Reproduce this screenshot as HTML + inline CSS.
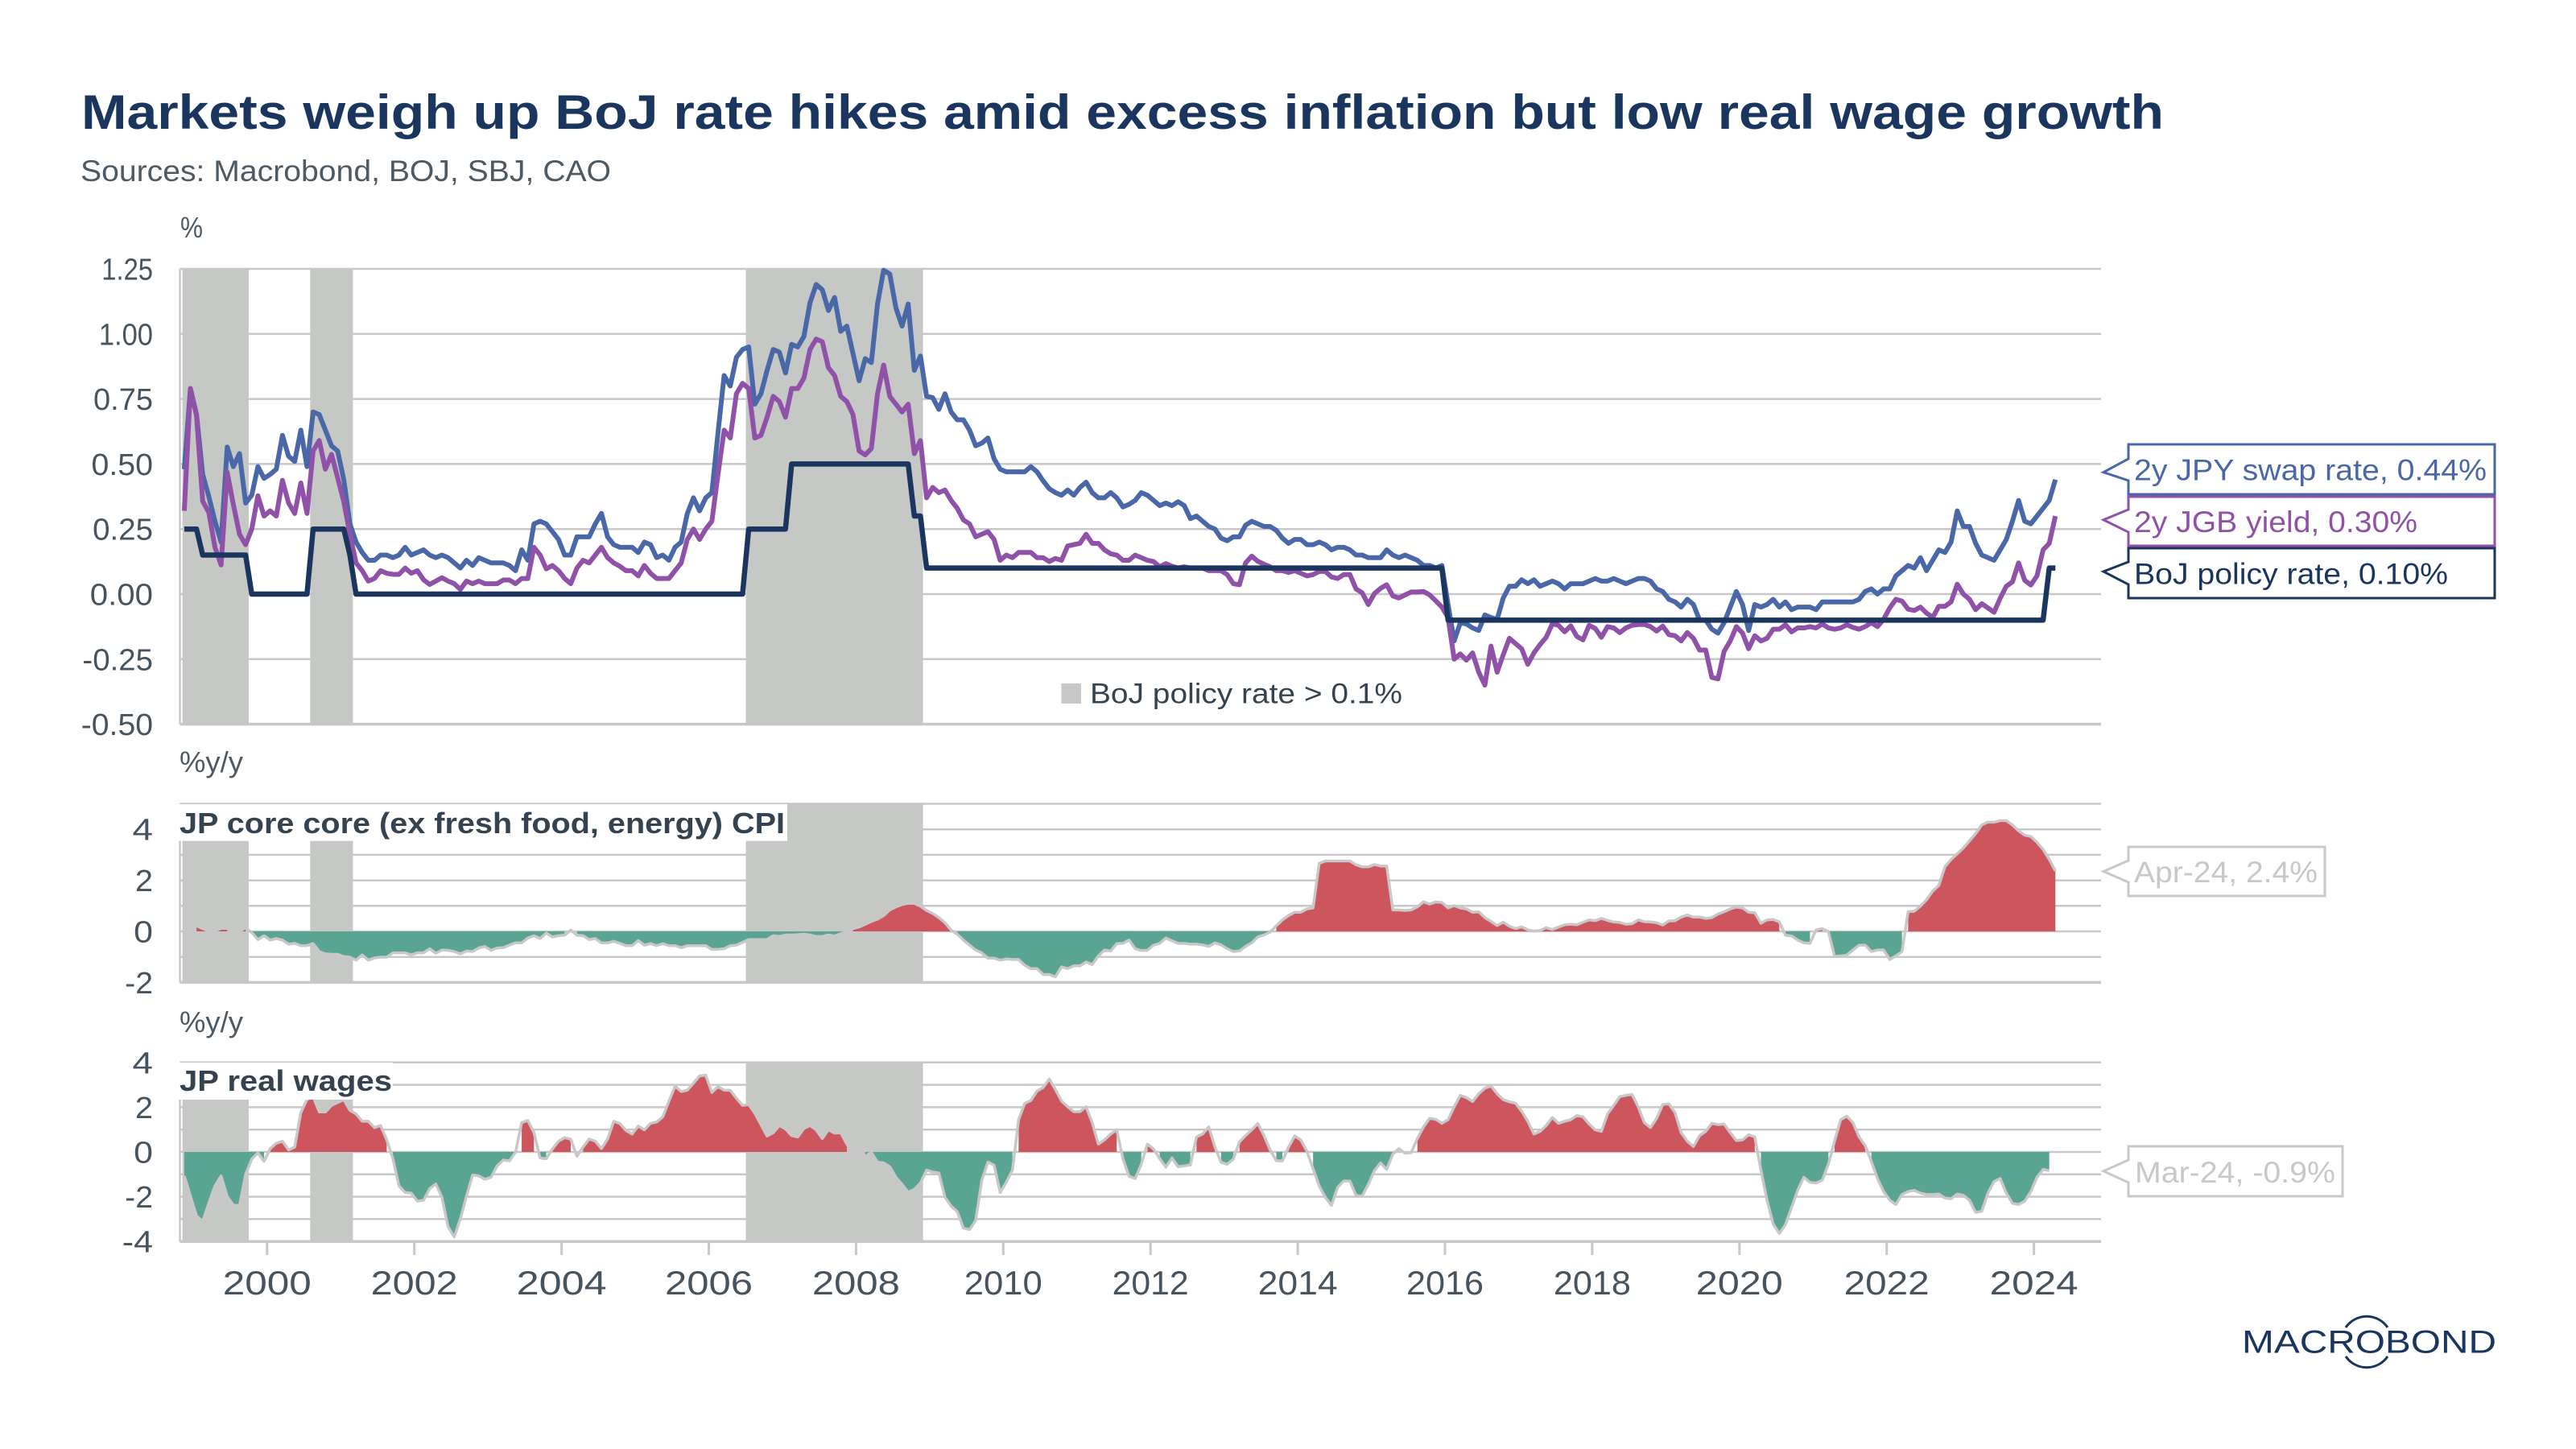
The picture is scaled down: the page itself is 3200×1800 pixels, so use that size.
<!DOCTYPE html>
<html lang="en">
<head>
<meta charset="utf-8">
<title>Markets weigh up BoJ rate hikes</title>
<style>
html,body{margin:0;padding:0;background:#fff;width:3200px;height:1800px;overflow:hidden}
svg{display:block}
text{font-family:"Liberation Sans",sans-serif}
</style>
</head>
<body>
<svg id="chart" xmlns="http://www.w3.org/2000/svg" width="3200" height="1800" viewBox="0 0 3200 1800">
  <rect width="3200" height="1800" fill="#ffffff"/>
  <text x="101" y="160" font-size="60" font-weight="700" fill="#1a355e" textLength="2587" lengthAdjust="spacingAndGlyphs">Markets weigh up BoJ rate hikes amid excess inflation but low real wage growth</text>
  <text x="100" y="225" font-size="37" fill="#4d5963" textLength="659" lengthAdjust="spacingAndGlyphs">Sources: Macrobond, BOJ, SBJ, CAO</text>
  <text x="224" y="295" font-size="36" fill="#4d5963" textLength="28" lengthAdjust="spacingAndGlyphs">%</text>
  <text x="223" y="959" font-size="36" fill="#4d5963" textLength="79" lengthAdjust="spacingAndGlyphs">%y/y</text>
  <text x="223" y="1282" font-size="36" fill="#4d5963" textLength="79" lengthAdjust="spacingAndGlyphs">%y/y</text>
  <g id="grid-layer"></g>
  <g id="band-layer"></g>
  <g id="axis-layer"></g>
  <g id="area-layer"></g>
  <g id="line-layer"></g>
  <g>
    <rect x="1318.5" y="849" width="24.5" height="25" fill="#c6c8c5"/>
    <text x="1354" y="873.5" font-size="35" fill="#34434f" textLength="388" lengthAdjust="spacingAndGlyphs">BoJ policy rate &gt; 0.1%</text>
  </g>
  <g>
    <rect x="222" y="999" width="756" height="45.6" fill="#ffffff"/>
    <text x="223" y="1035" font-size="36" font-weight="700" fill="#34434f" textLength="752" lengthAdjust="spacingAndGlyphs">JP core core (ex fresh food, energy) CPI</text>
  </g>
  <g>
    <rect x="222" y="1320" width="266" height="46" fill="#ffffff"/>
    <text x="223" y="1355" font-size="36" font-weight="700" fill="#34434f" textLength="264" lengthAdjust="spacingAndGlyphs">JP real wages</text>
  </g>
  <g>
    <path d="M2644 552H3099V614H2644V597L2613 586.7L2644 570Z" fill="#fff" stroke="#4a67a8" stroke-width="3"/>
    <text x="2651" y="596.7" font-size="37" fill="#4a67a8" textLength="438" lengthAdjust="spacingAndGlyphs">2y JPY swap rate, 0.44%</text>
  </g>
  <g>
    <path d="M2644 617H3099V678H2644V661L2613 645.7L2644 633Z" fill="#fff" stroke="#8f52a8" stroke-width="3"/>
    <text x="2651" y="661" font-size="37" fill="#8f52a8" textLength="352" lengthAdjust="spacingAndGlyphs">2y JGB yield, 0.30%</text>
  </g>
  <g>
    <path d="M2644 681H3099V743H2644V726L2613 710L2644 698Z" fill="#fff" stroke="#1a355e" stroke-width="3"/>
    <text x="2651" y="725.7" font-size="37" fill="#1a355e" textLength="390" lengthAdjust="spacingAndGlyphs">BoJ policy rate, 0.10%</text>
  </g>
  <g>
    <path d="M2644 1052H2888V1113H2644V1096L2613 1082.5L2644 1069Z" fill="#fff" stroke="#c8c8c8" stroke-width="3"/>
    <text x="2651" y="1096" font-size="37" fill="#c8c8c8" textLength="228" lengthAdjust="spacingAndGlyphs">Apr-24, 2.4%</text>
  </g>
  <g>
    <path d="M2644 1424H2910V1486H2644V1469L2613 1454.8L2644 1441Z" fill="#fff" stroke="#c8c8c8" stroke-width="3"/>
    <text x="2652" y="1469" font-size="37" fill="#c8c8c8" textLength="249" lengthAdjust="spacingAndGlyphs">Mar-24, -0.9%</text>
  </g>
  <g>
    <text x="2785" y="1680.6" font-size="40" fill="#1a355e" textLength="316" lengthAdjust="spacingAndGlyphs">MACROBOND</text>
    <path d="M2914 1649A31.5 31.5 0 0 1 2966 1649" fill="none" stroke="#1a355e" stroke-width="3"/>
    <path d="M2914 1685A31.5 31.5 0 0 0 2966 1685" fill="none" stroke="#1a355e" stroke-width="3"/>
  </g>
</svg>
<script>
const startYear = 1998;
const startMonth = 10;

const swapRate = [
.48,.79,.69,.46,.375,.28,.20,.565,.49,.54,
.35,.38,.49,.445,.46,.48,.61,.53,.51,.63,
.49,.70,.69,.63,.57,.55,.44,.27,.20,.16,
.13,.13,.15,.15,.14,.15,.18,.15,.16,.17,
.15,.14,.15,.14,.12,.10,.13,.11,.14,.13,
.12,.12,.12,.11,.09,.17,.13,.27,.28,.27,
.24,.21,.15,.15,.22,.22,.22,.27,.31,.22,
.19,.18,.18,.18,.16,.20,.19,.14,.15,.13,
.18,.20,.31,.37,.32,.37,.39,.62,.84,.80,
.91,.94,.95,.73,.77,.86,.94,.93,.85,.96,
.95,.99,1.12,1.19,1.17,1.09,1.14,1.01,1.03,.925,
.82,.905,.89,1.115,1.245,1.23,1.10,1.03,1.115,.86,
.915,.76,.755,.71,.77,.70,.67,.67,.63,.57,
.58,.60,.52,.48,.47,.47,.47,.47,.49,.47,
.435,.405,.39,.38,.40,.38,.41,.43,.39,.37,
.37,.39,.37,.335,.345,.36,.39,.38,.36,.34,
.35,.34,.355,.34,.29,.30,.28,.26,.25,.215,
.205,.22,.22,.265,.28,.27,.26,.26,.245,.215,
.195,.21,.21,.19,.19,.20,.19,.17,.18,.18,
.17,.15,.15,.14,.14,.14,.17,.15,.14,.15,
.14,.13,.11,.11,.10,.11,-.04,-.18,-.11,-.115,
-.13,-.14,-.08,-.09,-.097,-.015,.03,.03,.055,.04,
.055,.03,.04,.05,.04,.02,.04,.04,.04,.05,
.06,.05,.05,.06,.05,.04,.05,.06,.06,.05,
.02,.01,-.02,-.03,-.05,-.02,-.04,-.10,-.10,-.135,
-.15,-.11,-.05,.01,-.04,-.14,-.04,-.05,-.04,-.02,
-.05,-.03,-.06,-.05,-.05,-.05,-.06,-.03,-.03,-.03,
-.03,-.03,-.03,-.02,.01,.02,0,.02,.02,.07,
.09,.11,.10,.14,.09,.13,.17,.16,.20,.32,
.26,.26,.195,.15,.14,.13,.17,.21,.28,.36,
.28,.27,.30,.33,.36,.44
];

const jgbYield = [
.32,.79,.685,.357,.314,.18,.112,.468,.344,.23,
.19,.25,.378,.30,.32,.30,.437,.35,.31,.427,
.31,.55,.59,.48,.537,.447,.355,.23,.12,.09,
.05,.06,.09,.08,.076,.076,.10,.08,.09,.055,
.037,.05,.063,.05,.04,.018,.05,.04,.05,.04,
.04,.04,.054,.054,.04,.06,.06,.18,.15,.097,
.11,.09,.06,.04,.10,.13,.12,.15,.18,.14,
.12,.107,.09,.09,.07,.11,.08,.06,.06,.06,
.09,.12,.21,.25,.21,.25,.28,.46,.63,.60,
.77,.81,.79,.60,.61,.68,.76,.74,.68,.79,
.79,.83,.94,.98,.97,.87,.84,.76,.74,.69,
.55,.535,.56,.77,.88,.76,.73,.70,.73,.54,
.59,.37,.41,.39,.40,.36,.33,.285,.27,.22,
.23,.24,.21,.13,.15,.14,.16,.16,.16,.14,
.14,.125,.137,.13,.185,.19,.195,.23,.195,.195,
.17,.155,.15,.13,.13,.15,.14,.13,.125,.105,
.117,.107,.10,.105,.10,.10,.10,.09,.09,.09,
.075,.04,.036,.12,.146,.126,.115,.105,.09,.09,
.083,.09,.08,.07,.075,.087,.087,.066,.06,.075,
.075,.02,.005,-.04,.002,.022,.036,-.007,-.015,-.003,
.008,.008,.01,-.003,-.026,-.05,-.09,-.25,-.23,-.254,
-.226,-.30,-.35,-.20,-.30,-.233,-.17,-.19,-.21,-.27,
-.226,-.194,-.166,-.114,-.12,-.145,-.122,-.163,-.176,-.12,
-.132,-.166,-.125,-.13,-.148,-.13,-.12,-.117,-.117,-.125,
-.142,-.123,-.156,-.16,-.18,-.148,-.17,-.215,-.215,-.32,
-.326,-.22,-.18,-.125,-.15,-.21,-.16,-.18,-.17,-.135,
-.135,-.118,-.145,-.13,-.13,-.125,-.13,-.115,-.13,-.135,
-.13,-.118,-.128,-.135,-.125,-.11,-.125,-.097,-.053,-.02,
-.027,-.058,-.063,-.05,-.073,-.09,-.047,-.047,-.03,.038,
0,-.02,-.06,-.037,-.053,-.07,-.016,.03,.047,.12,
.053,.035,.07,.17,.195,.30
];

// Policy rate as level changes: each level and how many months it held.
const policyLevels = [.25,.15,0,.25,.15,0,.25,.5,.3,.1,-.1,.1];
const policyMonths = [3,8,10,6,1,64,7,20,2,85,98,2];

const coreCpi = [
null,null,.22,.11,.01,.02,.12,.12,-.05,.01,
.14,-.05,-.32,-.17,-.34,-.28,-.34,-.5,-.47,-.56,
-.56,-.48,-.79,-.88,-.9,-.9,-.99,-1.01,-1.13,-.92,
-1.13,-1.04,-1.01,-1.01,-.84,-.84,-.84,-.92,-.84,-.84,
-.68,-.86,-.73,-.74,-.79,-.88,-.77,-.79,-.65,-.59,
-.74,-.65,-.64,-.54,-.45,-.45,-.26,-.17,-.28,-.06,
-.22,-.17,-.15,.05,-.15,-.17,-.32,-.28,-.45,-.45,
-.39,-.47,-.56,-.56,-.36,-.54,-.48,-.56,-.48,-.56,
-.56,-.64,-.56,-.56,-.56,-.56,-.71,-.7,-.68,-.56,
-.54,-.43,-.32,-.32,-.32,-.32,-.17,-.2,-.14,-.14,
-.13,-.11,-.14,-.2,-.2,-.14,-.18,-.09,-.01,.11,
.17,.28,.39,.48,.62,.84,.96,1.05,1.1,1.1,
.99,.82,.7,.54,.34,.05,-.11,-.34,-.54,-.73,
-.84,-1.05,-1.05,-1.13,-1.08,-1.1,-1.1,-1.33,-1.46,-1.46,
-1.69,-1.69,-1.78,-1.39,-1.46,-1.35,-1.35,-1.2,-1.3,-.96,
-.73,-.77,-.48,-.47,-.34,-.68,-.75,-.74,-.54,-.47,
-.26,-.37,-.47,-.47,-.5,-.5,-.53,-.59,-.45,-.53,
-.68,-.79,-.77,-.59,-.45,-.22,-.14,-.03,.22,.45,
.62,.75,.75,.88,.92,2.67,2.76,2.76,2.76,2.76,
2.76,2.61,2.53,2.53,2.62,2.56,2.56,.84,.84,.82,
.84,.96,1.16,1.07,1.15,1.13,.92,1.01,.92,.88,
.75,.77,.54,.39,.23,.36,.2,.11,.18,.06,
.01,.03,.15,.07,.17,.26,.28,.26,.36,.45,
.42,.51,.43,.37,.35,.28,.3,.45,.38,.37,
.34,.25,.41,.42,.56,.64,.56,.56,.51,.54,
.68,.77,.88,.95,.92,.75,.73,.32,.45,.47,
.37,-.15,-.18,-.34,-.45,-.47,.06,.11,-.01,-.98,
-.96,-.93,-.73,-.54,-.54,-.79,-.73,-.73,-1.1,-.96,
-.79,.77,.79,.99,1.24,1.58,1.8,2.53,2.82,3.04,
3.27,3.55,3.83,4.17,4.28,4.28,4.34,4.34,4.17,3.94,
3.77,3.72,3.49,3.21,2.82,2.37
];

const realWages = [
-1.07,-1.97,-2.86,-3.1,-2.29,-1.52,-1.07,-1.99,-2.38,-2.39,
-1.0,-.32,-.04,-.42,.15,.39,.48,.09,.22,1.76,
2.34,2.47,1.79,1.79,2.08,2.21,2.34,1.86,1.7,1.37,
1.37,1.09,1.18,.54,-.3,-1.52,-1.81,-1.84,-2.2,-2.16,
-1.64,-1.43,-2.03,-3.35,-3.8,-2.99,-1.97,-1.03,-1.07,-1.22,
-1.13,-.62,-.36,-.4,-.01,1.31,1.41,.86,-.27,-.3,
.13,.48,.64,.57,-.19,.22,.58,.48,.15,.58,
1.37,1.27,.96,.8,1.16,.99,1.28,1.34,1.57,2.27,
2.94,2.7,2.76,3.07,3.4,3.43,2.66,2.92,2.76,2.75,
2.4,2.08,2.12,1.73,1.22,.71,.86,1.18,1.03,.73,
.67,1.05,1.18,.99,.6,.99,.84,.86,.35,-.05,
.02,-.2,-.02,-.46,-.49,-.66,-1.13,-1.45,-1.8,-1.67,
-1.39,-.81,-.9,-.94,-2.03,-2.42,-2.67,-3.4,-3.47,-3.06,
-1.26,-.45,-.59,-1.81,-1.35,-.81,1.44,2.17,2.3,2.72,
2.88,3.26,2.79,2.27,2.02,1.8,1.8,2.02,1.31,.35,
.54,.8,.99,-.3,-1.09,-1.19,-.55,.35,.13,-.3,
-.68,-.27,-.66,-.62,-.58,.67,.8,1.12,.22,-.46,
-.55,-.32,.45,.73,.99,1.27,.73,.09,-.39,-.4,
.22,.71,.54,.03,-.75,-1.52,-2.03,-2.39,-1.58,-1.3,
-1.3,-1.94,-1.97,-1.45,-.84,-.49,-.78,-.1,.15,-.06,
-.03,.6,1.12,1.5,1.46,1.28,1.44,2.02,2.53,2.43,
2.25,2.6,2.85,2.95,2.6,2.34,2.24,2.18,1.82,1.37,
.8,.92,1.18,1.54,1.28,1.37,1.44,1.63,1.57,1.25,
.99,.92,1.7,2.08,2.47,2.53,2.57,2.02,1.31,1.09,
1.5,2.12,2.15,1.76,.86,.48,.24,.73,.92,1.28,
1.22,1.25,.86,.51,.54,.77,.67,-.81,-2.16,-3.22,
-3.64,-3.25,-2.48,-1.71,-1.13,-1.36,-1.39,-1.26,-.55,.48,
1.44,1.6,1.31,.67,.28,-.42,-1.19,-1.77,-2.16,-2.35,
-1.9,-1.77,-1.71,-1.84,-1.9,-1.9,-1.88,-2.06,-2.09,-1.88,
-1.94,-2.16,-2.7,-2.65,-1.84,-1.32,-1.19,-1.84,-2.29,-2.35,
-2.2,-1.77,-1.13,-.78,-.84,null
];

// Periods with the policy rate above 0.1%, as decimal years.
const bandStarts = [1998.85,2000.585,2006.504];
const bandEnds = [1999.75,2001.166,2008.909];

const rateGridValues = [1.25,1,.75,.5,.25,0,-.25,-.5];
const rateTickLabels = ['1.25','1.00','0.75','0.50','0.25','0.00','-0.25','-0.50'];
const cpiGridValues = [5,4,3,2,1,0,-1,-2];
const cpiTickValues = [4,2,0,-2];
const wageGridValues = [4,3,2,1,0,-1,-2,-3,-4];
const wageTickValues = [4,2,0,-2,-4];
const yearTicks = [2000,2002,2004,2006,2008,2010,2012,2014,2016,2018,2020,2022,2024];

const NS = 'http://www.w3.org/2000/svg';
const GRID = '#c8c8c8';
const PLOT_LEFT = 223.5;
const PLOT_RIGHT = 2610;

function xYear(year) { return 331.8 + (year - 2000) * 91.45; }
function xMonth(i) { return xYear(startYear + (startMonth + 0.5 + i) / 12); }
function yRate(v) { return 738 - 323.2 * v; }
function yCpi(v) { return 1157 - 31.7 * v; }
function yWage(v) { return 1431 - 27.8 * v; }

function labelWidth(label, k) {
  const w = {'0':28,'1':15,'2':26,'3':26,'4':30,'5':26,'6':27,'7':25,'8':27,'9':27,'.':8,'-':15};
  let s = 0;
  for (const c of label) s += w[c];
  return s * k;
}
function shape(tag, attrs, parent) {
  const el = document.createElementNS(NS, tag);
  for (const k in attrs) el.setAttribute(k, attrs[k]);
  parent.appendChild(el);
  return el;
}

const gridLayer = document.getElementById('grid-layer');
const bandLayer = document.getElementById('band-layer');
const axisLayer = document.getElementById('axis-layer');
const areaLayer = document.getElementById('area-layer');
const lineLayer = document.getElementById('line-layer');

const panels = [
  {key:'rates', scale:yRate, grid:rateGridValues, ticks:rateGridValues, labels:rateTickLabels},
  {key:'cpi', scale:yCpi, grid:cpiGridValues, ticks:cpiTickValues, labels:cpiTickValues.map(String)},
  {key:'wages', scale:yWage, grid:wageGridValues, ticks:wageTickValues, labels:wageTickValues.map(String)}
];

panels.forEach(function (p) {
  const top = p.scale(p.grid[0]);
  const bottom = p.scale(p.grid[p.grid.length - 1]);
  p.grid.forEach(function (v, n) {
    const line = shape('line', {x1:PLOT_LEFT, x2:PLOT_RIGHT, y1:p.scale(v), y2:p.scale(v), stroke:GRID,
      'stroke-width': n === p.grid.length - 1 ? 3.5 : 2.5}, gridLayer);
    
    
  });
  bandStarts.forEach(function (start, n) {
    const band = shape('rect', {x:xYear(start), width:xYear(bandEnds[n]) - xYear(start), y:top, height:bottom - top, fill:'#c6c8c5'}, bandLayer);
    
    
  });
  const axis = shape('line', {x1:PLOT_LEFT, x2:PLOT_LEFT, y1:top, y2:bottom, stroke:GRID, 'stroke-width':2.5}, axisLayer);
  
  
  p.ticks.forEach(function (v, n) {
    const t = shape('text', {x:190, y:p.scale(v) + 13.5, 'font-size':38, fill:'#47535e', 'text-anchor':'end',
      textLength:labelWidth(p.labels[n], 0.85), lengthAdjust:'spacingAndGlyphs'}, axisLayer);
    t.textContent = p.labels[n];
    
    
  });
});

yearTicks.forEach(function (year) {
  const tick = shape('line', {x1:xYear(year), x2:xYear(year), y1:1542, y2:1559, stroke:GRID, 'stroke-width':3}, axisLayer);
  
  
  const t = shape('text', {x:xYear(year), y:1608, 'font-size':42, fill:'#47535e', 'text-anchor':'middle',
    textLength:labelWidth(String(year), 1), lengthAdjust:'spacingAndGlyphs'}, axisLayer);
  t.textContent = String(year);
  
  
});

function linePath(values, scale) {
  let d = '';
  let pen = false;
  values.forEach(function (v, i) {
    if (v === null) { pen = false; return; }
    d += (pen ? 'L' : 'M') + xMonth(i).toFixed(2) + ' ' + scale(v).toFixed(2);
    pen = true;
  });
  return d;
}

function drawAreas(values, scale, name) {
  let run = [];
  function flush() {
    if (run.length > 1) {
      const base = scale(0).toFixed(2);
      let d = 'M' + xMonth(run[0]).toFixed(2) + ' ' + base;
      run.forEach(function (i) { d += 'L' + xMonth(i).toFixed(2) + ' ' + scale(values[i]).toFixed(2); });
      d += 'L' + xMonth(run[run.length - 1]).toFixed(2) + ' ' + base + 'Z';
      const positive = values[run[0]] >= 0;
      const area = shape('path', {d:d, fill: positive ? '#cd555d' : '#5aa493'}, areaLayer);
      
      
    }
    run = [];
  }
  values.forEach(function (v, i) {
    if (v === null) { flush(); return; }
    if (run.length && (values[run[0]] >= 0) !== (v >= 0)) flush();
    run.push(i);
  });
  flush();
  const outline = shape('path', {d:linePath(values, scale), fill:'none', stroke:'#c8c8c8', 'stroke-width':3.5, 'stroke-linejoin':'round'}, areaLayer);
  
  
}

drawAreas(coreCpi, yCpi, 'core-cpi');
drawAreas(realWages, yWage, 'real-wages');

const policyRate = [];
policyLevels.forEach(function (level, n) {
  for (let m = 0; m < policyMonths[n]; m++) policyRate.push(level);
});

const swapLine = shape('path', {d:linePath(swapRate, yRate), fill:'none', stroke:'#4a67a8', 'stroke-width':6, 'stroke-linejoin':'round'}, lineLayer);


const jgbLine = shape('path', {d:linePath(jgbYield, yRate), fill:'none', stroke:'#8f52a8', 'stroke-width':6, 'stroke-linejoin':'round'}, lineLayer);


const policyLine = shape('path', {d:linePath(policyRate, yRate), fill:'none', stroke:'#1a355e', 'stroke-width':6.5, 'stroke-linejoin':'round'}, lineLayer);


</script>
</body>
</html>
